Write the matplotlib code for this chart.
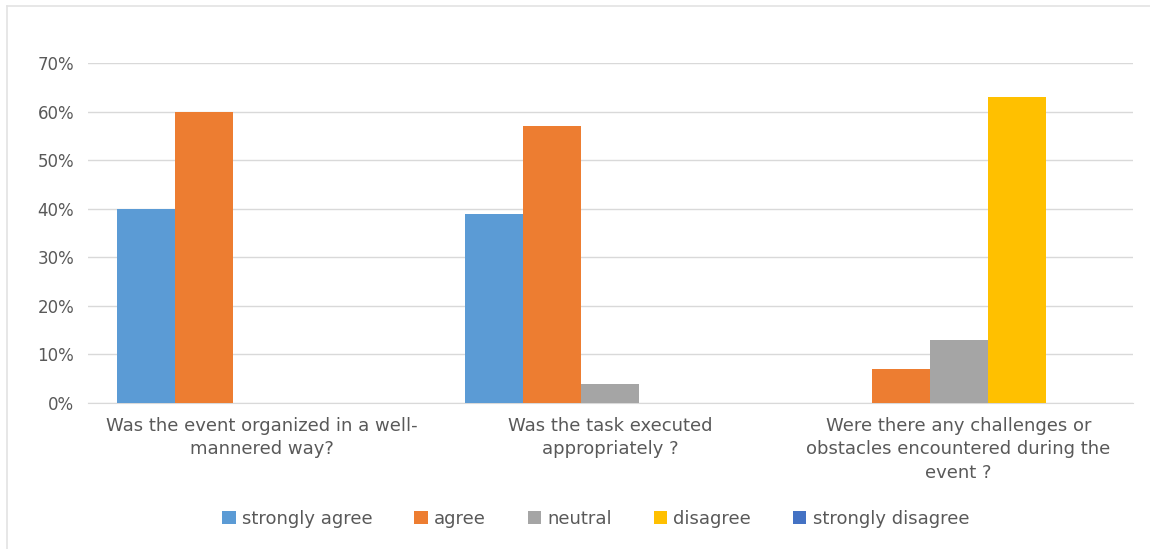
import numpy as np
import matplotlib
matplotlib.use("Agg")
from matplotlib import pyplot as plt
from matplotlib.lines import Line2D
from matplotlib.ticker import PercentFormatter

# Survey answers per question (fractions)
questions = ["Was the event organized in a well-\nmannered way?",
             "Was the task executed\nappropriately ?",
             "Were there any challenges or\nobstacles encountered during the\nevent ?"]
series_names = ["strongly agree", "agree", "neutral", "disagree", "strongly disagree"]
strongly_agree = [0.40, 0.39, 0.0]
agree = [0.60, 0.57, 0.07]
neutral = [0.0, 0.04, 0.13]
disagree = [0.0, 0.0, 0.63]
strongly_disagree = [0.0, 0.0, 0.0]
colors = ["#5B9BD5", "#ED7D31", "#A5A5A5", "#FFC000", "#4472C4"]

values = [strongly_agree, agree, neutral, disagree, strongly_disagree]
text_color = "#595959"

fig = plt.figure(figsize=(11.5, 5.49), dpi=100)
ax = fig.add_axes([0.0765, 0.266, 0.9085, 0.619])

# light frame of the chart area, only top and left edges are visible
fx, fy = 6.5 / 1150, 1 - 5.5 / 549
fig.lines.append(Line2D([fx, 1.0], [fy, fy], transform=fig.transFigure, color="#E3E3E3", lw=1.2))
fig.lines.append(Line2D([fx, fx], [0.0, fy], transform=fig.transFigure, color="#E3E3E3", lw=1.2))

x = np.arange(len(questions))
width = 0.1667
for i, (name, vals) in enumerate(zip(series_names, values)):
    ax.bar(x + (i - 2) * width, vals, width, color=colors[i], label=name, zorder=3)

ax.set_xlim(-0.5, 2.5)
ax.set_ylim(0, 0.7)
ax.set_yticks(np.arange(0, 0.71, 0.1))
ax.yaxis.set_major_formatter(PercentFormatter(1.0, decimals=0))
ax.grid(axis="y", color="#D9D9D9", lw=1, zorder=0)
for s in ["top", "right", "left"]:
    ax.spines[s].set_visible(False)
ax.spines["bottom"].set_color("#D9D9D9")
ax.tick_params(axis="both", length=0, colors=text_color)
ax.tick_params(axis="y", pad=10, labelsize=12)
ax.tick_params(axis="x", pad=10)
ax.set_xticks(x)
ax.set_xticklabels(questions, fontsize=13, color=text_color, linespacing=1.4)

leg = ax.legend(loc="center", bbox_to_anchor=(0.486, -0.34), ncol=5, frameon=False,
                fontsize=13, handlelength=0.75, handleheight=0.75, handletextpad=0.35, columnspacing=2.3)
for t in leg.get_texts():
    t.set_color(text_color)

fig.savefig("out.png", dpi=100)
